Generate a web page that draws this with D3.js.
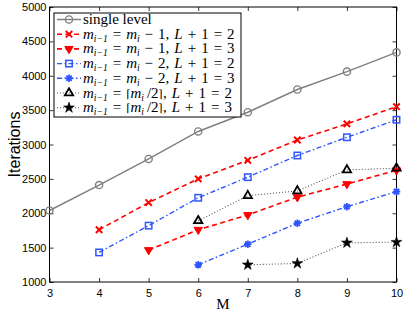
<!DOCTYPE html>
<html>
<head>
<meta charset="utf-8">
<script src="https://cdn.jsdelivr.net/npm/d3@7"></script>
<style>
  body { margin: 0; background: #fff; }
  svg { display: block; }
  text { white-space: pre; }
</style>
</head>
<body>
<script>
// values
let levels = [3, 4, 5, 6, 7, 8, 9, 10];
let singleLevel = [2040, 2410, 2790, 3190, 3470, 3800, 4060, 4340];
let m1L2 = [null, 1760, 2155, 2500, 2770, 3065, 3300, 3550];
let m1L3 = [null, null, 1465, 1760, 1975, 2235, 2425, 2625];
let m2L2 = [null, 1430, 1820, 2225, 2525, 2840, 3105, 3360];
let m2L3 = [null, null, null, 1250, 1550, 1855, 2095, 2315];
let halfL2 = [null, null, null, 1890, 2255, 2325, 2630, 2655];
let halfL3 = [null, null, null, null, 1250, 1270, 1570, 1580];
let yTicks = [1000, 1500, 2000, 2500, 3000, 3500, 4000, 4500, 5000];

// legend labels: [text, kind]  n = normal, i = italic, s = subscript, b = bracket
let sp = '\u2004';
let labels = [
  [['single level', 'n']],
  [['m', 'i'], ['i−1', 's'], [sp + '=' + sp, 'n'], ['m', 'i'], ['i', 's'], [sp + '−' + sp + '1,' + sp, 'n'], ['L', 'i'], [sp + '+' + sp + '1' + sp + '=' + sp + '2', 'n']],
  [['m', 'i'], ['i−1', 's'], [sp + '=' + sp, 'n'], ['m', 'i'], ['i', 's'], [sp + '−' + sp + '1,' + sp, 'n'], ['L', 'i'], [sp + '+' + sp + '1' + sp + '=' + sp + '3', 'n']],
  [['m', 'i'], ['i−1', 's'], [sp + '=' + sp, 'n'], ['m', 'i'], ['i', 's'], [sp + '−' + sp + '2,' + sp, 'n'], ['L', 'i'], [sp + '+' + sp + '1' + sp + '=' + sp + '2', 'n']],
  [['m', 'i'], ['i−1', 's'], [sp + '=' + sp, 'n'], ['m', 'i'], ['i', 's'], [sp + '−' + sp + '2,' + sp, 'n'], ['L', 'i'], [sp + '+' + sp + '1' + sp + '=' + sp + '3', 'n']],
  [['m', 'i'], ['i−1', 's'], [sp + '=' + sp, 'n'], ['⌈', 'b'], ['m', 'i'], ['i', 's'], ['\u2009/2', 'n'], ['⌉', 'b'], [',' + sp, 'n'], ['L', 'i'], [sp + '+' + sp + '1' + sp + '=' + sp + '2', 'n']],
  [['m', 'i'], ['i−1', 's'], [sp + '=' + sp, 'n'], ['⌈', 'b'], ['m', 'i'], ['i', 's'], ['\u2009/2', 'n'], ['⌉', 'b'], [',' + sp, 'n'], ['L', 'i'], [sp + '+' + sp + '1' + sp + '=' + sp + '3', 'n']]
];

let margin = { top: 7, right: 12.5, bottom: 29, left: 49.5 };
let width = 409 - margin.left - margin.right;
let height = 311 - margin.top - margin.bottom;

let blue = '#2f55ff';
let series = [
  { values: singleLevel, color: '#808080', dash: null, lw: 1.5, marker: 'circle' },
  { values: m1L2, color: '#ff0000', dash: '5,3.5', lw: 1.6, marker: 'x' },
  { values: m1L3, color: '#ff0000', dash: '5,3.5', lw: 1.6, marker: 'tridown' },
  { values: m2L2, color: blue, dash: '5,2.5,1.5,2.5', lw: 1.4, marker: 'square' },
  { values: m2L3, color: blue, dash: '5,2.5,1.5,2.5', lw: 1.4, marker: 'asterisk' },
  { values: halfL2, color: '#555', dash: '1,2', lw: 1.1, marker: 'triup' },
  { values: halfL3, color: '#555', dash: '1,2', lw: 1.1, marker: 'star' }
];

let svg = d3.select('body').append('svg')
    .attr('width', 409)
    .attr('height', 311)
  .append('g')
    .attr('transform', 'translate(' + margin.left + ',' + margin.top + ')');

let x = d3.scaleLinear().domain([3, 10]).range([0, width]);
let y = d3.scaleLinear().domain([1000, 5000]).range([height, 0]);

// axes, matlab style: inward ticks on all four sides
let axisFont = 'Liberation Sans, Arial, sans-serif';
function styleAxis(g) {
  g.select('.domain').remove();
  g.selectAll('line').attr('stroke', '#000').attr('stroke-width', 0.8);
  g.selectAll('text').attr('font-family', axisFont).attr('font-size', 11).attr('fill', '#000');
}

svg.append('g')
    .attr('transform', 'translate(0,' + height + ')')
    .call(d3.axisBottom(x).tickValues(levels).tickSize(-4).tickPadding(7).tickFormat(d3.format('d')))
    .call(styleAxis);
svg.append('g')
    .call(d3.axisTop(x).tickValues(levels).tickSize(-4).tickFormat(''))
    .call(styleAxis);
svg.append('g')
    .call(d3.axisLeft(y).tickValues(yTicks).tickSize(-4).tickPadding(3).tickFormat(d3.format('d')))
    .call(styleAxis);
svg.append('g')
    .attr('transform', 'translate(' + width + ',0)')
    .call(d3.axisRight(y).tickValues(yTicks).tickSize(-4).tickFormat(''))
    .call(styleAxis);

svg.append('rect')
    .attr('width', width)
    .attr('height', height)
    .attr('fill', 'none')
    .attr('stroke', '#000')
    .attr('stroke-width', 1);

// axis titles
svg.append('text')
    .attr('x', width / 2)
    .attr('y', height + 27)
    .attr('text-anchor', 'middle')
    .attr('font-family', 'Liberation Serif, Times New Roman, serif')
    .attr('font-size', 15)
    .text('M');

svg.append('text')
    .attr('transform', 'translate(' + (20 - margin.left) + ',' + (height / 2) + ') rotate(-90)')
    .attr('text-anchor', 'middle')
    .attr('font-family', axisFont)
    .attr('font-size', 16)
    .text('Iterations');

// marker drawing
function drawMarker(g, type, color) {
  if (type === 'circle') {
    g.append('circle').attr('r', 3.6).attr('fill', 'none').attr('stroke', color).attr('stroke-width', 1.4);
  } else if (type === 'x') {
    g.append('path').attr('d', 'M-3.2,-3.2L3.2,3.2M-3.2,3.2L3.2,-3.2')
      .attr('stroke', color).attr('stroke-width', 2);
  } else if (type === 'tridown') {
    g.append('path').attr('d', d3.symbol(d3.symbolTriangle, 30)())
      .attr('transform', 'rotate(180)')
      .attr('fill', color).attr('stroke', color).attr('stroke-width', 1);
  } else if (type === 'square') {
    g.append('rect').attr('x', -3.2).attr('y', -3.2).attr('width', 6.4).attr('height', 6.4)
      .attr('fill', 'none').attr('stroke', color).attr('stroke-width', 1.5);
  } else if (type === 'asterisk') {
    let p = '';
    for (let k = 0; k < 4; k++) {
      let a = k * Math.PI / 4;
      let dx = 3.8 * Math.cos(a), dy = 3.8 * Math.sin(a);
      p += 'M' + (-dx) + ',' + (-dy) + 'L' + dx + ',' + dy;
    }
    g.append('path').attr('d', p).attr('stroke', color).attr('stroke-width', 1.8);
  } else if (type === 'triup') {
    g.append('path').attr('d', d3.symbol(d3.symbolTriangle, 30)())
      .attr('fill', 'none').attr('stroke', '#000').attr('stroke-width', 1.8);
  } else if (type === 'star') {
    g.append('path').attr('d', d3.symbol(d3.symbolStar, 36)())
      .attr('fill', '#000').attr('stroke', '#000').attr('stroke-width', 0.6);
  }
}

let line = d3.line()
  .defined(function(d) { return d[1] != null; })
  .x(function(d) { return x(d[0]); })
  .y(function(d) { return y(d[1]); });

series.forEach(function(s) {
  let pts = levels.map(function(l, i) { return [l, s.values[i]]; });
  svg.append('path')
    .datum(pts)
    .attr('d', line)
    .attr('fill', 'none')
    .attr('stroke', s.color)
    .attr('stroke-width', s.lw)
    .attr('stroke-dasharray', s.dash);
  svg.selectAll(null)
    .data(pts.filter(function(d) { return d[1] != null; }))
    .enter().append('g')
      .attr('transform', function(d) { return 'translate(' + x(d[0]) + ',' + y(d[1]) + ')'; })
      .each(function() { drawMarker(d3.select(this), s.marker, s.color); });
});

// legend
let lx = 54 - margin.left, ly = 13 - margin.top;
let legend = svg.append('g').attr('transform', 'translate(' + lx + ',' + ly + ')');
legend.append('rect')
    .attr('width', 187)
    .attr('height', 104)
    .attr('fill', '#fff')
    .attr('stroke', '#000')
    .attr('stroke-width', 1);

let serif = 'Liberation Serif, Times New Roman, serif';
series.forEach(function(s, i) {
  let row = legend.append('g').attr('transform', 'translate(0,' + (6.5 + i * 14.7) + ')');
  row.append('line')
    .attr('x1', 3).attr('x2', 27)
    .attr('stroke', s.color)
    .attr('stroke-width', s.lw)
    .attr('stroke-dasharray', s.dash);
  drawMarker(row.append('g').attr('transform', 'translate(15,0)'), s.marker, s.color);
  let t = row.append('text')
    .attr('x', 29)
    .attr('y', 4.5)
    .attr('font-family', serif)
    .attr('font-size', 15)
    .attr('fill', '#000');
  let shift = 0;
  labels[i].forEach(function(p) {
    let ts = t.append('tspan').text(p[0]);
    if (shift) { ts.attr('dy', -shift); shift = 0; }
    if (p[1] === 'i') ts.attr('font-style', 'italic');
    if (p[1] === 'b') ts.attr('font-family', 'DejaVu Serif, serif').attr('font-size', 11);
    if (p[1] === 's') {
      ts.attr('font-style', 'italic').attr('font-size', 9.5).attr('dy', 3);
      shift = 3;
    }
  });
});
</script>
</body>
</html>
